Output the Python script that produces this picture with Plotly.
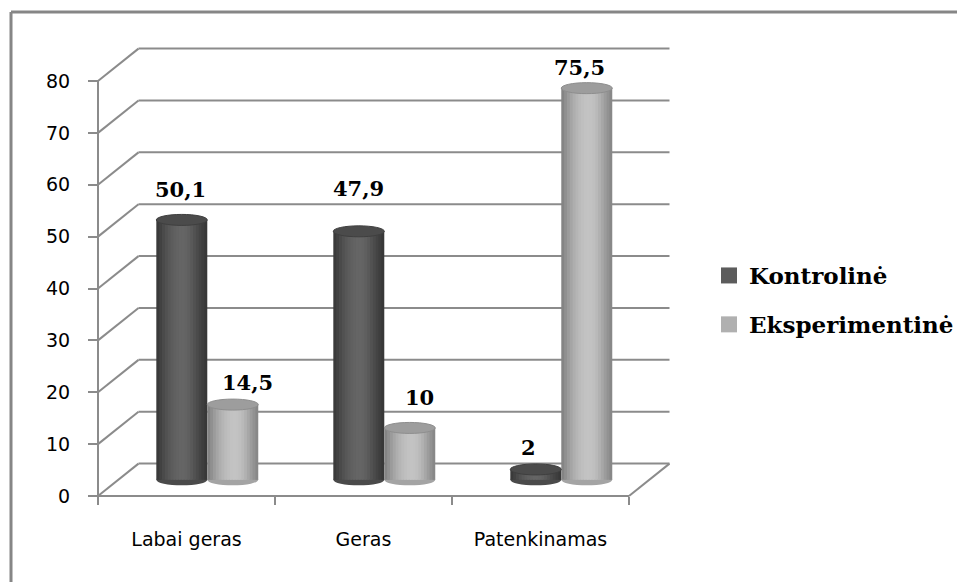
import plotly.graph_objects as go

# ---- data ----
CATEGORIES = ["Labai geras", "Geras", "Patenkinamas"]
SERIES_NAMES = ["Kontrolinė", "Eksperimentinė"]
KONTROLINE = [50.1, 47.9, 2]
EKSPERIMENTINE = [14.5, 10, 75.5]
Y_TICKS = [0, 10, 20, 30, 40, 50, 60, 70, 80]

# ---- layout geometry (pixels) ----
FIG_W, FIG_H = 957, 582
PLOT_L, PLOT_R, PLOT_T, PLOT_B = 60, 700, 30, 540
FRONT_X0, FRONT_X1 = 98, 629          # front floor edge
FRONT_Y0, FRONT_Y80 = 496, 81         # value 0 and 80 on the front axis
CAT_PX = (FRONT_X1 - FRONT_X0) / 3
UNIT_PX = (FRONT_Y0 - FRONT_Y80) / 80

X_RANGE = [-0.5 - (FRONT_X0 - PLOT_L) / CAT_PX, 2.5 + (PLOT_R - FRONT_X1) / CAT_PX]
Y_RANGE = [-(PLOT_B - FRONT_Y0) / UNIT_PX, 80 + (FRONT_Y80 - PLOT_T) / UNIT_PX]

# depth of the 3-D box in axis units
DX = 40.5 / CAT_PX
DY = 32.4 / UNIT_PX

GRID = "#8b8b8b"
FRAME = "#868686"

# cylinder geometry (in category units) and shading across the width
BAR_W = 0.288
SERIES_START = [-0.285, 0.003]
SHADES = [
    [0x3a, 0x42, 0x4a, 0x51, 0x57, 0x5c, 0x60, 0x63, 0x65, 0x65, 0x63, 0x5f,
     0x59, 0x52, 0x4b, 0x44, 0x3e, 0x38],
    [0x84, 0x90, 0x9b, 0xa5, 0xae, 0xb5, 0xbb, 0xbf, 0xc2, 0xc3, 0xc2, 0xbf,
     0xb9, 0xb1, 0xa7, 0x9c, 0x92, 0x88],
]
N_STRIPS = len(SHADES[0])
CAP_FILL = ["#4b4b4b", "#9d9d9d"]
CAP_LINE = ["#3f3f3f", "#8e8e8e"]
BASE_FILL = ["#4a4a4a", "#a4a4a4"]
LEGEND_COLOR = ["#5c5c5c", "#b0b0b0"]
CAP_H = 5.5 / UNIT_PX

# value-label placement (pixel shifts)
LABEL_LIFT = [[30, 43, 22], [22, 30, 21]]
LABEL_DX = [[-1, 0, -7], [15, 10, -7]]


def grey(v):
    return f"rgb({v},{v},{v})"


def fmt(v):
    return f"{v:g}".replace(".", ",")


def paper_x(px):
    return (px - PLOT_L) / (PLOT_R - PLOT_L)


def paper_y(py):
    return (PLOT_B - py) / (PLOT_B - PLOT_T)


series_values = [KONTROLINE, EKSPERIMENTINE]

fig = go.Figure()

# cylinder bodies: each cylinder is a bundle of thin shaded strips
step = BAR_W / N_STRIPS
for s, values in enumerate(series_values):
    for k in range(N_STRIPS):
        last = k == N_STRIPS - 1
        fig.add_trace(go.Bar(
            x=CATEGORIES, y=values,
            offset=SERIES_START[s] + k * step,
            width=step if last else step * 1.6,
            marker=dict(color=grey(SHADES[s][k]), line=dict(width=0)),
            xaxis="x2", yaxis="y2",
            showlegend=False, hoverinfo="skip",
        ))

# legend entries
for s, name in enumerate(SERIES_NAMES):
    fig.add_trace(go.Scatter(
        x=CATEGORIES, y=[None] * len(CATEGORIES), mode="markers", name=name,
        legendgroup=name,
        marker=dict(symbol="square", size=16, color=LEGEND_COLOR[s]),
    ))

shapes = []
line = dict(color=GRID, width=2)
# back wall gridlines and left wall diagonals
for v in Y_TICKS:
    shapes.append(dict(type="line", xref="x", yref="y", layer="below",
                       x0=-0.5 + DX, x1=2.5 + DX, y0=v + DY, y1=v + DY, line=line))
    shapes.append(dict(type="line", xref="x", yref="y", layer="below",
                       x0=-0.5, x1=-0.5 + DX, y0=v, y1=v + DY, line=line))
# front value axis, front floor edge, right floor edge
shapes.append(dict(type="line", xref="x", yref="y", layer="below",
                   x0=-0.5, x1=-0.5, y0=0, y1=Y_TICKS[-1], line=line))
shapes.append(dict(type="line", xref="x", yref="y", layer="below",
                   x0=-0.5, x1=2.5, y0=0, y1=0, line=line))
shapes.append(dict(type="line", xref="x", yref="y", layer="below",
                   x0=2.5, x1=2.5 + DX, y0=0, y1=DY, line=line))

# cylinder bases and caps
for s, values in enumerate(series_values):
    for i, v in enumerate(values):
        x0 = i + SERIES_START[s]
        x1 = x0 + BAR_W
        shapes.append(dict(type="circle", xref="x2", yref="y2", layer="below",
                           x0=x0, x1=x1, y0=-CAP_H, y1=CAP_H,
                           fillcolor=BASE_FILL[s], line=dict(width=0)))
        shapes.append(dict(type="circle", xref="x2", yref="y2", layer="above",
                           x0=x0, x1=x1, y0=v - CAP_H, y1=v + CAP_H,
                           fillcolor=CAP_FILL[s], line=dict(color=CAP_LINE[s], width=1)))

# outer frame (top and left edges)
shapes.append(dict(type="line", xref="paper", yref="paper",
                   x0=paper_x(11), x1=paper_x(FIG_W + 2), y0=paper_y(12), y1=paper_y(12),
                   line=dict(color=FRAME, width=3)))
shapes.append(dict(type="line", xref="paper", yref="paper",
                   x0=paper_x(11), x1=paper_x(11), y0=paper_y(12), y1=paper_y(FIG_H + 2),
                   line=dict(color=FRAME, width=3)))

# value labels
annotations = []
for s, values in enumerate(series_values):
    for i, v in enumerate(values):
        annotations.append(dict(
            x=i + SERIES_START[s] + BAR_W / 2, y=v, xref="x2", yref="y2",
            text=fmt(v), showarrow=False, yanchor="middle",
            xshift=LABEL_DX[s][i], yshift=LABEL_LIFT[s][i],
            font=dict(family="DejaVu Serif", size=21, color="#000000", weight="bold"),
        ))

tick_font = dict(family="DejaVu Sans", size=19, color="#000000")

fig.update_layout(
    width=FIG_W, height=FIG_H,
    margin=dict(l=PLOT_L, r=FIG_W - PLOT_R, t=PLOT_T, b=FIG_H - PLOT_B, autoexpand=False),
    paper_bgcolor="white", plot_bgcolor="rgba(0,0,0,0)",
    barmode="overlay",
    shapes=shapes, annotations=annotations,
    xaxis=dict(
        type="category", categoryorder="array", categoryarray=CATEGORIES,
        range=X_RANGE, anchor="free", position=paper_y(FRONT_Y0),
        showgrid=False, zeroline=False, showline=False,
        ticks="outside", tickson="boundaries", ticklen=8, tickwidth=2, tickcolor=GRID,
        ticklabelstandoff=30, tickfont=tick_font,
    ),
    yaxis=dict(
        range=Y_RANGE, anchor="free", position=paper_x(FRONT_X0),
        tickvals=Y_TICKS, showgrid=False, zeroline=False, showline=False,
        ticks="outside", ticklen=10, tickwidth=2, tickcolor=GRID,
        ticklabelstandoff=14, tickfont=tick_font,
    ),
    xaxis2=dict(
        type="category", categoryorder="array", categoryarray=CATEGORIES,
        range=[X_RANGE[0] - DX / 2, X_RANGE[1] - DX / 2],
        overlaying="x", visible=False,
    ),
    yaxis2=dict(
        range=[Y_RANGE[0] - DY / 2, Y_RANGE[1] - DY / 2],
        overlaying="y", visible=False,
    ),
    legend=dict(
        x=paper_x(709), y=paper_y(300), xanchor="left", yanchor="middle",
        font=dict(family="DejaVu Serif", size=23, color="#000000", weight="bold"),
        tracegroupgap=16, traceorder="grouped", bgcolor="rgba(0,0,0,0)",
    ),
)

fig.write_html("out.html")
